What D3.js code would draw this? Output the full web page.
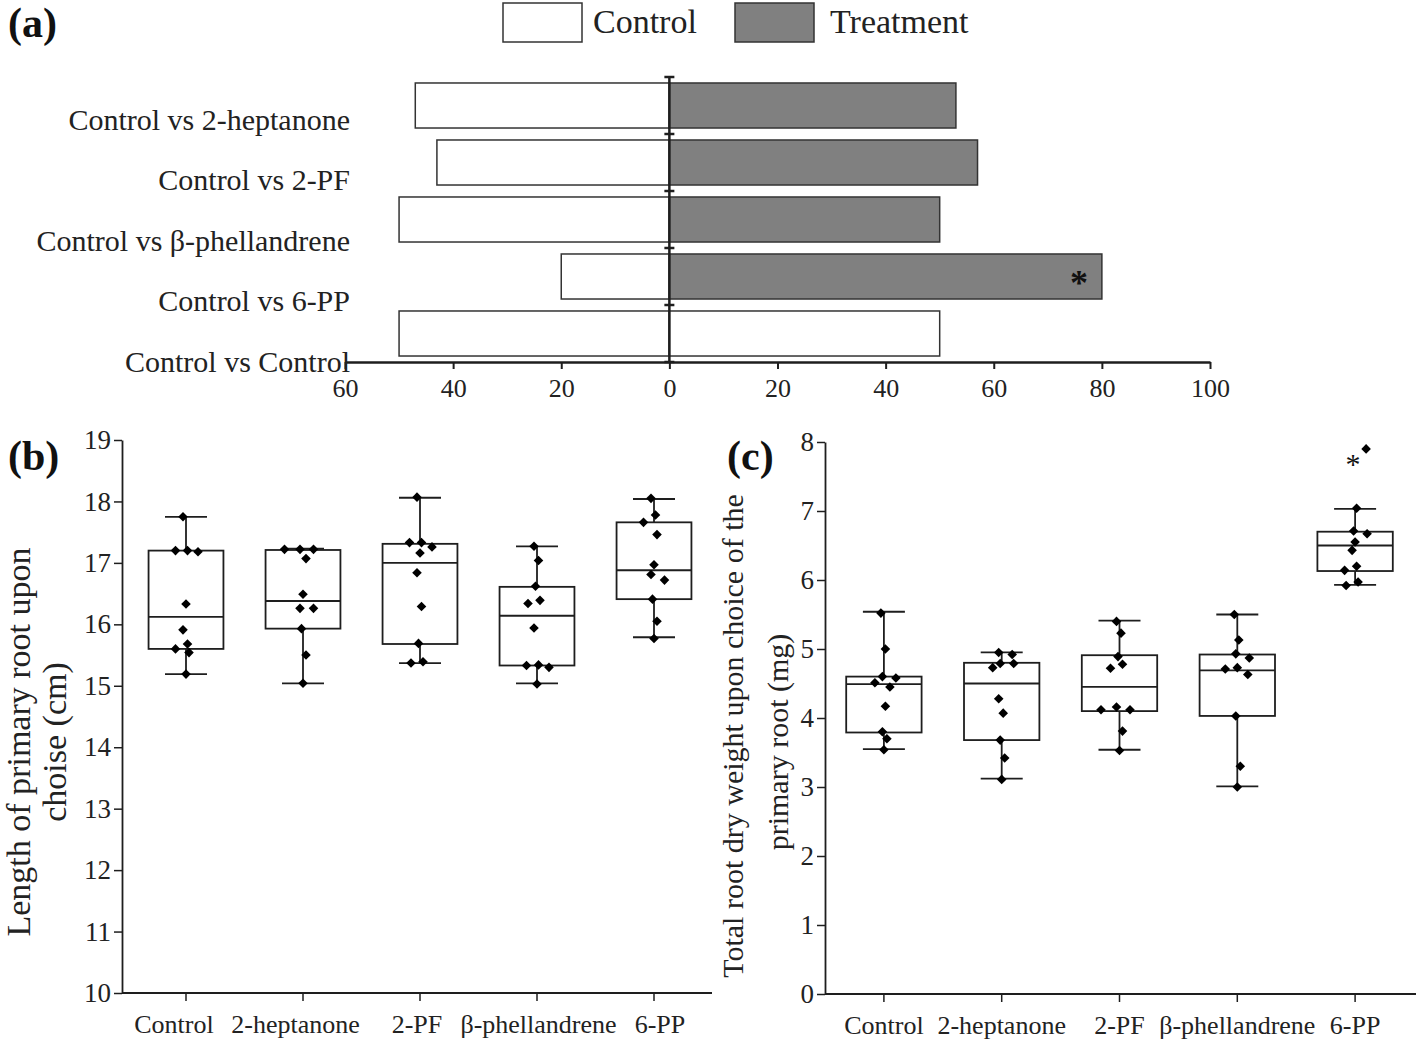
<!DOCTYPE html>
<html><head><meta charset="utf-8">
<script src="https://cdn.jsdelivr.net/npm/d3@7"></script>
<style>
html,body{margin:0;padding:0;background:#fff;}
svg{display:block;font-family:'Liberation Serif','Times New Roman',serif;}
</style></head><body>
<svg id="chart" width="1416" height="1041"></svg>
<script>
// ---------- DATA ----------
const prefCategories = ["Control vs 2-heptanone","Control vs 2-PF","Control vs β-phellandrene","Control vs 6-PP","Control vs Control"];
const prefControl   = [47, 43, 50, 20, 50];
const prefTreatment = [53, 57, 50, 80, 50];
const prefTicks = [-60,-40,-20,0,20,40,60,80,100];
const prefSignificant = ["Control vs 6-PP"];
const legendLabels = ["Control","Treatment"];

const groups = ["Control","2-heptanone","2-PF","β-phellandrene","6-PP"];

const lenTicks = [10,11,12,13,14,15,16,17,18,19];
const lenMin = [15.19, 15.04, 15.37, 15.04, 15.79];
const lenQ1  = [15.60, 15.93, 15.68, 15.33, 16.41];
const lenMed = [16.12, 16.38, 17.00, 16.14, 16.88];
const lenQ3  = [17.20, 17.21, 17.31, 16.61, 17.66];
const lenMax = [17.75, 17.23, 18.06, 17.27, 18.04];
const lenPoints = [
  [17.75, 17.20, 17.20, 17.18, 16.33, 15.91, 15.68, 15.60, 15.54, 15.19],
  [17.22, 17.22, 17.22, 17.07, 16.49, 16.26, 16.26, 15.93, 15.50, 15.04],
  [18.07, 17.33, 17.33, 17.26, 17.16, 16.84, 16.29, 15.69, 15.39, 15.37],
  [17.27, 17.04, 16.62, 16.39, 16.34, 15.94, 15.34, 15.33, 15.30, 15.03],
  [18.05, 17.78, 17.66, 17.46, 16.97, 16.81, 16.72, 16.41, 16.05, 15.77]
];

const wtTicks = [0,1,2,3,4,5,6,7,8];
const wtMin = [3.55, 3.12, 3.54, 3.01, 5.93];
const wtQ1  = [3.79, 3.68, 4.10, 4.03, 6.13];
const wtMed = [4.49, 4.50, 4.45, 4.69, 6.50];
const wtQ3  = [4.60, 4.80, 4.91, 4.92, 6.70];
const wtMax = [5.54, 4.95, 5.41, 5.50, 7.03];
const wtPoints = [
  [5.52, 5.00, 4.60, 4.58, 4.51, 4.45, 4.17, 3.80, 3.70, 3.54],
  [4.95, 4.92, 4.79, 4.79, 4.73, 4.28, 4.07, 3.68, 3.42, 3.11],
  [5.40, 5.23, 4.89, 4.78, 4.72, 4.16, 4.12, 4.12, 3.81, 3.53],
  [5.50, 5.13, 4.93, 4.87, 4.73, 4.71, 4.63, 4.03, 3.30, 3.00],
  [7.90, 7.04, 6.71, 6.67, 6.55, 6.43, 6.20, 6.14, 5.97, 5.92]
];
const wtSignificant = ["6-PP"];

// ---------- SETUP ----------
const FONT = "'Liberation Serif','Times New Roman',serif";
const ink = "#1e1e1e";
const svg = d3.select("#chart");
svg.append("rect").attr("width",1416).attr("height",1041).attr("fill","#fff");

// ---------- PANEL A ----------
const gA = svg.append("g");
const xA = d3.scaleLinear().domain([-60,100]).range([345,1210]);
const yA = d3.scaleBand().domain(prefCategories).range([77,362]).paddingInner(0.21).paddingOuter(0.105);
const labA = d3.scalePoint().domain(prefCategories).range([120,362]);

gA.selectAll("rect.ctl").data(prefCategories).join("rect").attr("class","ctl")
  .attr("x",(d,i)=>xA(-prefControl[i])).attr("y",d=>yA(d))
  .attr("width",(d,i)=>xA(0)-xA(-prefControl[i])).attr("height",yA.bandwidth())
  .attr("fill","#fff").attr("stroke","#333").attr("stroke-width",1.5);
gA.selectAll("rect.trt").data(prefCategories).join("rect").attr("class","trt")
  .attr("x",xA(0)).attr("y",d=>yA(d))
  .attr("width",(d,i)=>xA(prefTreatment[i])-xA(0)).attr("height",yA.bandwidth())
  .attr("fill",d=>d==="Control vs Control"?"#fff":"#808080").attr("stroke","#333").attr("stroke-width",1.5);

const x0 = xA(0);
gA.append("line").attr("x1",x0).attr("x2",x0).attr("y1",yA.range()[0]).attr("y2",yA.range()[1])
  .attr("stroke",ink).attr("stroke-width",2.5);
const bounds = d3.range(prefCategories.length+1).map(k=>yA.range()[0]+k*yA.step());
gA.selectAll("line.bt").data(bounds).join("line").attr("class","bt")
  .attr("x1",x0-5).attr("x2",x0+5).attr("y1",d=>d).attr("y2",d=>d)
  .attr("stroke",ink).attr("stroke-width",2.5);

const axA = gA.append("g").attr("transform",`translate(0,${yA.range()[1]})`)
  .call(d3.axisBottom(xA).tickValues(prefTicks).tickFormat(d=>Math.abs(d)).tickSize(7).tickSizeOuter(0));
axA.select(".domain").attr("stroke",ink).attr("stroke-width",2.5);
axA.selectAll(".tick line").attr("stroke",ink).attr("stroke-width",2);
axA.selectAll(".tick text").attr("font-family",FONT).attr("font-size",26).attr("fill","#222").attr("y",17);

gA.selectAll("text.cat").data(prefCategories).join("text").attr("class","cat")
  .attr("x",350).attr("y",d=>labA(d)).attr("dy","0.33em").attr("text-anchor","end")
  .attr("font-size",30).attr("fill","#222").text(d=>d);

gA.selectAll("text.sig").data(prefSignificant).join("text").attr("class","sig")
  .attr("x",d=>xA(prefTreatment[prefCategories.indexOf(d)])-23)
  .attr("y",d=>yA(d)+yA.bandwidth()/2+18)
  .attr("text-anchor","middle").attr("font-size",36).attr("font-weight","bold").attr("fill","#111").text("*");

// legend
const legFill = ["#fff","#808080"];
const legX = [503,735], legTx = [593,830];
legendLabels.forEach((l,i)=>{
  svg.append("rect").attr("x",legX[i]).attr("y",3).attr("width",79).attr("height",39)
    .attr("fill",legFill[i]).attr("stroke","#333").attr("stroke-width",1.5);
  svg.append("text").attr("x",legTx[i]).attr("y",33).attr("font-size",34).attr("fill","#222").text(l);
});

// panel labels
[["(a)",8,37],["(b)",8,470],["(c)",727,470]].forEach(p=>{
  svg.append("text").attr("x",p[1]).attr("y",p[2]).attr("font-size",42).attr("font-weight","bold").attr("fill","#111").text(p[0]);
});

// ---------- BOX PANELS ----------
function swarm(values, yS, cx){
  const placed=[];
  return values.map((v,i)=>{
    const y=yS(v);
    const base=((i*3)%5-2)*1.5;
    const offs=[0,-9,9,-17,17];
    let x=cx+base;
    for(const o of offs){
      const c=cx+base+o;
      if(placed.every(p=>Math.hypot(p[0]-c,p[1]-y)>=8)){x=c;break;}
    }
    placed.push([x,y]);
    return [x,y];
  });
}

function boxPanel(cfg){
  const g=svg.append("g");
  const {x,y,axisX,axisEnd,ticks,mins,q1,med,q3,maxs,pts,labelScale} = cfg;
  const y0=y.range()[0];
  const ay=g.append("g").attr("transform",`translate(${axisX},0)`)
    .call(d3.axisLeft(y).tickValues(ticks).tickSize(8).tickSizeOuter(0));
  ay.select(".domain").attr("stroke",ink).attr("stroke-width",1.8);
  ay.selectAll(".tick line").attr("stroke",ink).attr("stroke-width",1.5);
  ay.selectAll(".tick text").attr("font-family",FONT).attr("font-size",27).attr("fill","#222");
  g.append("line").attr("x1",axisX).attr("x2",axisEnd).attr("y1",y0).attr("y2",y0).attr("stroke",ink).attr("stroke-width",1.8);
  const ax=g.append("g").attr("transform",`translate(0,${y0})`)
    .call(d3.axisBottom(x).tickSize(8).tickSizeOuter(0));
  ax.select(".domain").remove();
  ax.selectAll(".tick line").attr("stroke",ink).attr("stroke-width",1.5);
  ax.selectAll(".tick text").remove();
  g.selectAll("text.xl").data(groups).join("text").attr("class","xl")
    .attr("x",d=>labelScale(d)).attr("y",y0+40).attr("text-anchor","middle")
    .attr("font-size",26).attr("fill","#222").text(d=>d);

  const bw=x.bandwidth(), boxW=bw*0.64, capW=42;
  groups.forEach((grp,i)=>{
    const cx=x(grp)+bw/2;
    const isSig = cfg.sig && cfg.sig.includes(grp);
    const gg=g.append("g").attr("stroke",ink).attr("stroke-width",1.8).attr("fill","none");
    gg.append("line").attr("x1",cx).attr("x2",cx).attr("y1",y(maxs[i])).attr("y2",y(q3[i]));
    gg.append("line").attr("x1",cx).attr("x2",cx).attr("y1",y(q1[i])).attr("y2",y(mins[i]));
    gg.append("line").attr("x1",cx-capW/2).attr("x2",cx+capW/2).attr("y1",y(maxs[i])).attr("y2",y(maxs[i]));
    gg.append("line").attr("x1",cx-capW/2).attr("x2",cx+capW/2).attr("y1",y(mins[i])).attr("y2",y(mins[i]));
    gg.append("rect").attr("x",cx-boxW/2).attr("width",boxW).attr("y",y(q3[i])).attr("height",y(q1[i])-y(q3[i]));
    gg.append("line").attr("x1",cx-boxW/2).attr("x2",cx+boxW/2).attr("y1",y(med[i])).attr("y2",y(med[i]));
    let pos=swarm(pts[i],y,cx);
    const top=d3.max(pts[i]);
    if(isSig){
      // make room for the significance mark beside the top point
      pos=pos.map((p,k)=>pts[i][k]===top?[cx+11,p[1]]:p);
      g.append("text").attr("x",cx-2).attr("y",y(top)+25).attr("text-anchor","middle")
        .attr("font-size",30).attr("fill","#111").text("*");
    }
    g.selectAll(null).data(pos).join("path")
      .attr("d",d3.symbol(d3.symbolSquare,46)())
      .attr("transform",d=>`translate(${d[0]},${d[1]}) rotate(45)`)
      .attr("fill","#000");
  });
  return g;
}

// Panel B
const yB=d3.scaleLinear().domain([10,19]).range([993,440]);
const xB=d3.scaleBand().domain(groups).range([127.5,712.5]);
boxPanel({x:xB,y:yB,axisX:122,axisEnd:712,ticks:lenTicks,mins:lenMin,q1:lenQ1,med:lenMed,q3:lenQ3,maxs:lenMax,pts:lenPoints,
  labelScale:d3.scalePoint().domain(groups).range([174,660])});
svg.append("text").attr("transform","translate(30,742) rotate(-90)").attr("text-anchor","middle")
  .attr("font-size",34).attr("fill","#222").text("Length of primary root upon");
svg.append("text").attr("transform","translate(66,742) rotate(-90)").attr("text-anchor","middle")
  .attr("font-size",34).attr("fill","#222").text("choise (cm)");

// Panel C
const yC=d3.scaleLinear().domain([0,8]).range([994,442]);
const xC=d3.scaleBand().domain(groups).range([825,1414]);
boxPanel({x:xC,y:yC,axisX:825,axisEnd:1416,ticks:wtTicks,mins:wtMin,q1:wtQ1,med:wtMed,q3:wtQ3,maxs:wtMax,pts:wtPoints,
  labelScale:d=>xC(d)+xC.bandwidth()/2, sig:wtSignificant});
svg.append("text").attr("transform","translate(743,736) rotate(-90)").attr("text-anchor","middle")
  .attr("font-size",30).attr("fill","#222").text("Total root dry weight upon choice of the");
svg.append("text").attr("transform","translate(788,742) rotate(-90)").attr("text-anchor","middle")
  .attr("font-size",30).attr("fill","#222").text("primary root (mg)");
</script>
</body></html>
